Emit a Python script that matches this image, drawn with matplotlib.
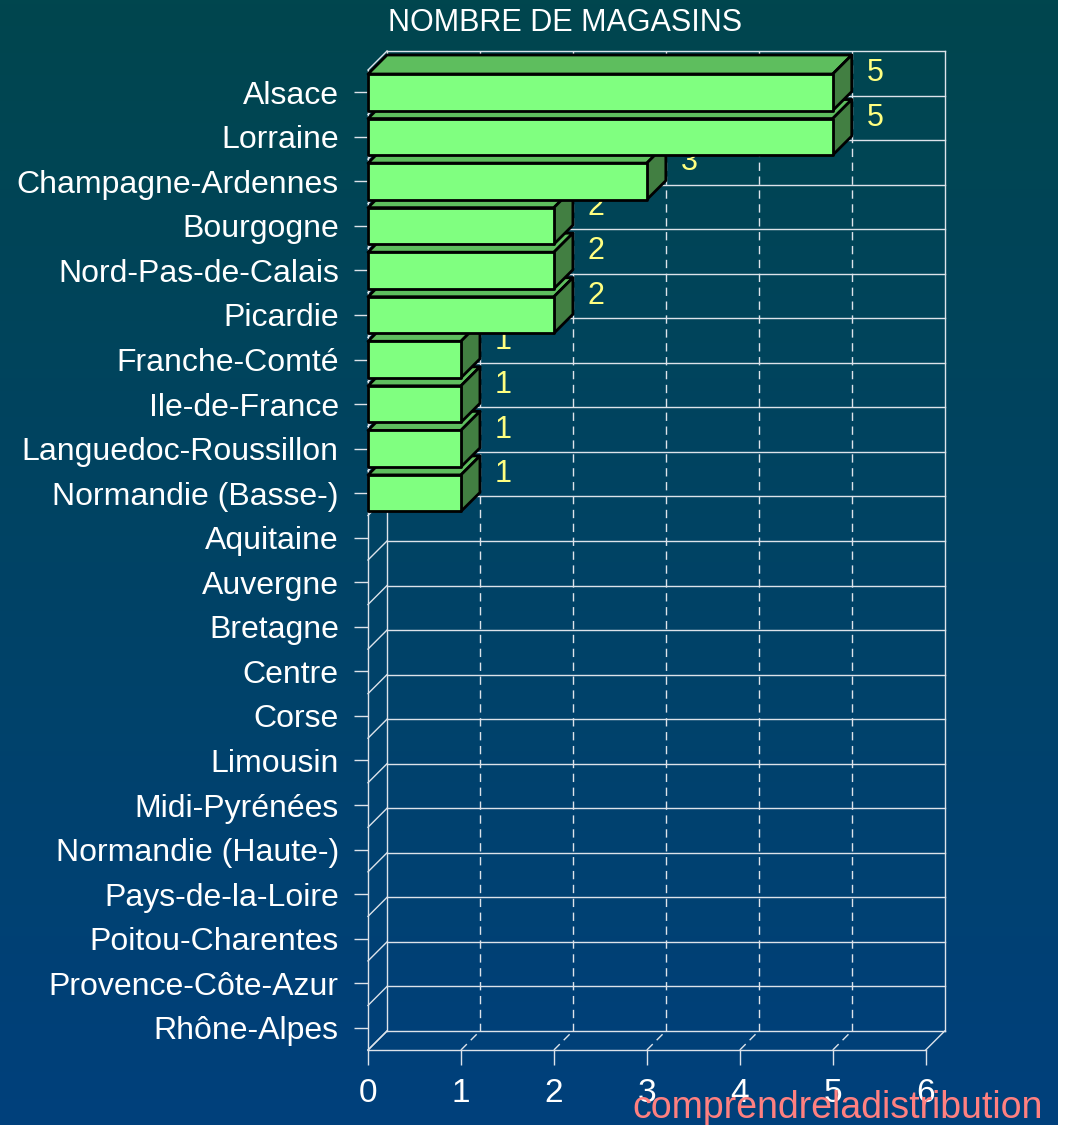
import numpy as np
import matplotlib
matplotlib.use("Agg")
import matplotlib.pyplot as plt
from matplotlib.patches import Rectangle, Polygon
from matplotlib.colors import LinearSegmentedColormap

plt.rcParams['font.family'] = ['Liberation Sans', 'DejaVu Sans']

# ---------------- data ----------------
title = "NOMBRE DE MAGASINS"
categories = ["Alsace", "Lorraine", "Champagne-Ardennes", "Bourgogne",
              "Nord-Pas-de-Calais", "Picardie", "Franche-Comté", "Ile-de-France",
              "Languedoc-Roussillon", "Normandie (Basse-)", "Aquitaine", "Auvergne",
              "Bretagne", "Centre", "Corse", "Limousin", "Midi-Pyrénées",
              "Normandie (Haute-)", "Pays-de-la-Loire", "Poitou-Charentes",
              "Provence-Côte-Azur", "Rhône-Alpes"]
values = [5, 5, 3, 2, 2, 2, 1, 1, 1, 1, 0, 0, 0, 0, 0, 0, 0, 0, 0, 0, 0, 0]
x_ticks = [0, 1, 2, 3, 4, 5, 6]
watermark = "comprendreladistribution"

# ---------------- figure ----------------
W, H = 1068, 1125
fig = plt.figure(figsize=(W / 100, H / 100), dpi=100)
fig.patch.set_facecolor('white')

# gradient background
bg = fig.add_axes([0, 0, 1058 / W, 1])
top_c = np.array([0, 70, 78]) / 255
bot_c = np.array([0, 64, 124]) / 255
cmap = LinearSegmentedColormap.from_list('bg', [bot_c, top_c])
grad = np.linspace(1, 0, 256).reshape(-1, 1)
bg.imshow(grad, aspect='auto', cmap=cmap, extent=[0, 1, 0, 1], vmin=0, vmax=1)
bg.set_axis_off()
bg.set_zorder(-10)

# main axes = front plane
x0_px, x1_px = 368, 925.7
ytop_px, ybot_px = 70, 1050
ax = fig.add_axes([x0_px / W, (H - ybot_px) / H, (x1_px - x0_px) / W, (ybot_px - ytop_px) / H])
ax.patch.set_alpha(0)
n = len(categories)
ax.set_xlim(0, 6)
ax.set_ylim(n - 0.5, -0.5)

unit_x = (x1_px - x0_px) / 6.0
unit_y = (ybot_px - ytop_px) / n
depth_px = 19
DX = depth_px / unit_x
DY = depth_px / unit_y

gc = '#DDE3EA'
glw = 1.0
kw = dict(clip_on=False, color=gc, lw=glw, zorder=1)

ybounds = np.arange(n + 1) - 0.5
# back wall horizontal lines
for b in ybounds:
    ax.plot([DX, 6 + DX], [b - DY, b - DY], **kw)
# left wall diagonals
for b in ybounds:
    ax.plot([0, DX], [b, b - DY], **kw)
# back wall verticals
for k in x_ticks:
    ls = '-' if k in (0, 6) else (0, (6, 4))
    ax.plot([k + DX, k + DX], [-0.5 - DY, n - 0.5 - DY], linestyle=ls, **kw)
# floor diagonals
for k in x_ticks:
    ls = '-' if k in (0, 6) else (0, (6, 4))
    ax.plot([k, k + DX], [n - 0.5, n - 0.5 - DY], linestyle=ls, **kw)

# spines
for s in ['top', 'right']:
    ax.spines[s].set_visible(False)
for s in ['left', 'bottom']:
    ax.spines[s].set_color(gc)
    ax.spines[s].set_linewidth(glw)

ax.set_yticks(range(n))
ax.set_yticklabels(categories)
ax.set_xticks(x_ticks)
ax.set_xticklabels([str(t) for t in x_ticks])
ax.tick_params(axis='y', colors=gc, labelcolor='white', length=10, width=1,
               pad=11, labelsize=23)
ax.tick_params(axis='x', colors=gc, labelcolor='white', length=10.8, width=1,
               pad=9, labelsize=24)

# bars
h = 0.41
front_c = '#80FF80'
top_col = '#5EBE5E'
side_col = '#427F42'
elw = 2.0
for i in range(n - 1, -1, -1):
    v = values[i]
    if v <= 0:
        continue
    z = 10 + (n - i) * 3
    y0, y1 = i - h, i + h
    top = Polygon([(0, y0), (v, y0), (v + DX, y0 - DY), (DX, y0 - DY)],
                  closed=True, fc=top_col, ec='black', lw=elw, zorder=z,
                  clip_on=False, joinstyle='round')
    side = Polygon([(v, y0), (v + DX, y0 - DY), (v + DX, y1 - DY), (v, y1)],
                   closed=True, fc=side_col, ec='black', lw=elw, zorder=z,
                   clip_on=False, joinstyle='round')
    front = Rectangle((0, y0), v, 2 * h, fc=front_c, ec='black', lw=elw,
                      zorder=z + 0.5, clip_on=False, joinstyle='round')
    ax.add_patch(top)
    ax.add_patch(side)
    ax.add_patch(front)
    ax.text(v + DX + 15 / unit_x, i - DY, str(v), color='#FFFF80', fontsize=22,
            ha='left', va='center', zorder=z + 1, clip_on=False)

# title
fig.text(565 / W, 1 - 23 / H, title, color='white', fontsize=22,
         ha='center', va='center')

# watermark
fig.text(1043 / W, 1 - 1118 / H, watermark, color='#FF8080', fontsize=27,
         ha='right', va='baseline', zorder=100)

fig.savefig('out.png', dpi=100, facecolor=fig.get_facecolor())
